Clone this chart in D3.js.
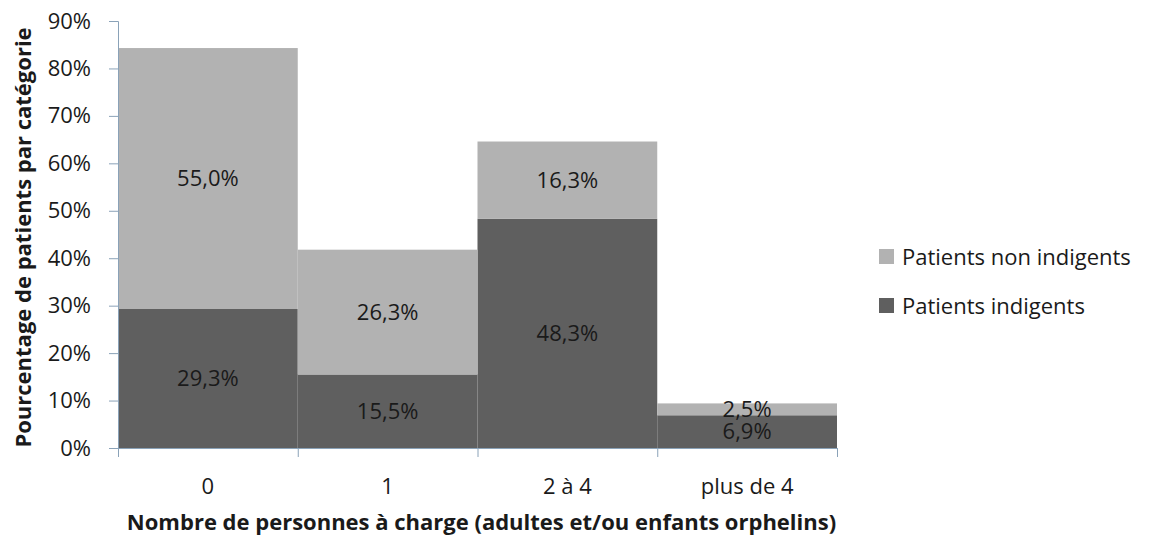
<!DOCTYPE html>
<html>
<head>
<meta charset="utf-8">
<script src="https://cdn.jsdelivr.net/npm/d3@7"></script>
<style>
	body { margin: 0; background: #fff; }
	text { font-family: 'Open Sans', Lato, sans-serif; fill: #1a1a1a; }
</style>
</head>
<body>
<script>
// data
var categories = ['0', '1', '2 à 4', 'plus de 4'];
var indigents = [29.3, 15.5, 48.3, 6.9];
var nonIndigents = [55.0, 26.3, 16.3, 2.5];
var seriesNames = ['Patients indigents', 'Patients non indigents'];
var yTicks = [0, 10, 20, 30, 40, 50, 60, 70, 80, 90];

var colors = { 'Patients indigents': '#5f5f5f', 'Patients non indigents': '#b2b2b2' };
var axisColor = '#8aa2b8';
var fontSize = '22px';

var margin = { top: 21, right: 314, bottom: 89, left: 118 };
var width = 1151 - margin.left - margin.right;
var height = 537 - margin.top - margin.bottom;

var svg = d3.select('body')
	.append('svg')
	.attr('width', 1151)
	.attr('height', 537)
	.append('g')
	.attr('transform', 'translate(' + margin.left + ',' + margin.top + ')');

var x = d3.scaleBand().domain(categories).range([0, width]).padding(0);
var y = d3.scaleLinear().domain([0, 90]).range([height, 0]);

var table = categories.map(function (c, i) {
	return { cat: c, 'Patients indigents': indigents[i], 'Patients non indigents': nonIndigents[i] };
});
var stacked = d3.stack().keys(seriesNames)(table);

// bars
svg.selectAll('g.layer')
	.data(stacked)
	.enter()
	.append('g')
	.attr('class', 'layer')
	.attr('fill', function (d) { return colors[d.key]; })
	.selectAll('rect')
	.data(function (d) { return d; })
	.enter()
	.append('rect')
	.attr('x', function (d) { return x(d.data.cat); })
	.attr('width', x.bandwidth())
	.attr('y', function (d) { return y(d[1]); })
	.attr('height', function (d) { return y(d[0]) - y(d[1]); });

// labels (centred in each segment)
stacked.forEach(function (layer) {
	svg.selectAll(null)
		.data(layer)
		.enter()
		.append('text')
		.attr('x', function (d) { return x(d.data.cat) + x.bandwidth() / 2; })
		.attr('y', function (d) { return y((d[0] + d[1]) / 2); })
		.attr('dy', '0.35em')
		.attr('text-anchor', 'middle')
		.style('font-size', fontSize)
		.text(function (d) { return d3.format('.1f')(d[1] - d[0]).replace('.', ',') + '%'; });
});

// axes
var y_axis = d3.axisLeft(y)
	.tickValues(yTicks)
	.tickSize(9)
	.tickPadding(18)
	.tickFormat(function (d) { return d + '%'; });

var yg = svg.append('g').attr('class', 'y axis').call(y_axis);
yg.select('.domain').attr('stroke', axisColor).attr('d', 'M-9,0.5H0.5V' + height);
yg.selectAll('line').attr('stroke', axisColor);
yg.selectAll('text').style('font-size', fontSize).style('font-family', "'Open Sans', sans-serif").attr('fill', '#1a1a1a');

// x axis: ticks at category boundaries
var xg = svg.append('g')
	.attr('class', 'x axis')
	.attr('transform', 'translate(0,' + height + ')');
xg.append('line')
	.attr('x1', 0).attr('x2', width)
	.attr('y1', 0.5).attr('y2', 0.5)
	.attr('stroke', axisColor);
var bounds = categories.map(function (c) { return x(c); }).concat([width]);
xg.selectAll('line.tick')
	.data(bounds)
	.enter()
	.append('line')
	.attr('class', 'tick')
	.attr('x1', function (d) { return d + 0.5; })
	.attr('x2', function (d) { return d + 0.5; })
	.attr('y1', 0).attr('y2', 9)
	.attr('stroke', axisColor);
xg.selectAll('text.cat')
	.data(categories)
	.enter()
	.append('text')
	.attr('class', 'cat')
	.attr('x', function (d) { return x(d) + x.bandwidth() / 2; })
	.attr('y', 38)
	.attr('dy', '0.35em')
	.attr('text-anchor', 'middle')
	.style('font-size', fontSize)
	.text(function (d) { return d; });

// axis titles
svg.append('text')
	.attr('x', width / 2 + 4)
	.attr('y', height + 82)
	.attr('text-anchor', 'middle')
	.style('font-size', fontSize)
	.style('font-weight', 'bold')
	.text('Nombre de personnes à charge (adultes et/ou enfants orphelins)');

svg.append('text')
	.attr('transform', 'translate(-87,' + (height / 2 + 3) + ') rotate(-90)')
	.attr('text-anchor', 'middle')
	.style('font-size', fontSize)
	.style('font-weight', 'bold')
	.text('Pourcentage de patients par catégorie');

// legend
var legendItems = ['Patients non indigents', 'Patients indigents'];
var legend = svg.selectAll('g.legend')
	.data(legendItems)
	.enter()
	.append('g')
	.attr('class', 'legend')
	.attr('transform', function (d, i) { return 'translate(' + (879 - margin.left) + ',' + (236 + i * 49) + ')'; });
legend.append('rect')
	.attr('x', 0).attr('y', -8)
	.attr('width', 15).attr('height', 15)
	.attr('fill', function (d) { return colors[d]; });
legend.append('text')
	.attr('x', 23)
	.attr('y', 0)
	.attr('dy', '0.35em')
	.style('font-size', fontSize)
	.text(function (d) { return d; });
</script>
</body>
</html>
